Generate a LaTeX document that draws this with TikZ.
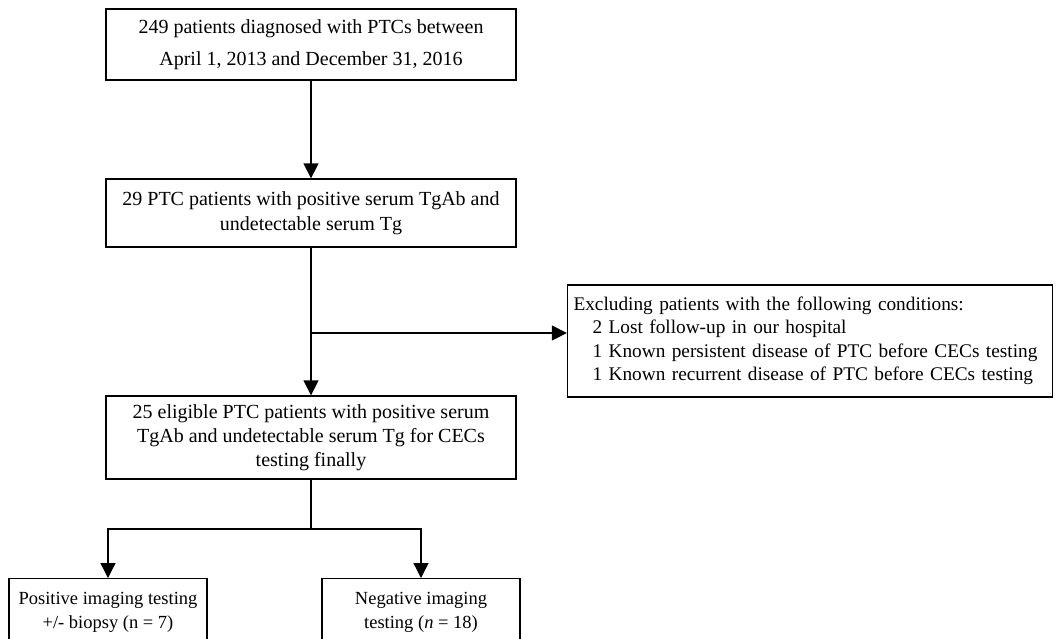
\documentclass[tikz,border=0pt]{standalone}
\usepackage{fontspec}
\setmainfont{Liberation Serif}
\usetikzlibrary{arrows.meta}
\begin{document}
\begin{tikzpicture}[x=1pt,y=-1pt,
  box/.style={draw,line width=1.3pt,align=center,inner sep=0pt,font=\fontsize{20}{24.5}\selectfont},
  arr/.style={line width=1.3pt,-{Triangle[length=15pt,width=15pt]}},
  ln/.style={line width=1.3pt}]
\clip (0,0) rectangle (1058,638);
\fill[white] (0,0) rectangle (1058,638);
\node[box,minimum width=410pt,minimum height=71pt,font=\fontsize{20}{32}\selectfont] (b1) at (311,44.5)
  {249 patients diagnosed with PTCs between\\April 1, 2013 and December 31, 2016};
\node[box,minimum width=410pt,minimum height=68pt,font=\fontsize{20}{25}\selectfont] (b2) at (311,213)
  {29 PTC patients with positive serum TgAb and\\undetectable serum Tg};
\node[box,minimum width=410pt,minimum height=83pt,font=\fontsize{20}{24}\selectfont] (b3) at (311,437.5)
  {25 eligible PTC patients with positive serum\\TgAb and undetectable serum Tg for CECs\\testing finally};
\node[box,minimum width=485pt,minimum height=112pt,align=left,text width=473pt,font=\fontsize{19.3}{23.5}\selectfont] (ex) at (810,341)
  {Excluding patients with the following conditions:\\
  \hspace*{19pt}2 Lost follow-up in our hospital\\
  \hspace*{19pt}1 Known persistent disease of PTC before CECs testing\\
  \hspace*{19pt}1 Known recurrent disease of PTC before CECs testing};
\node[box,minimum width=198pt,anchor=north,font=\fontsize{18.5}{24}\selectfont] (pos) at (108,578)
  {\rule{0pt}{26pt}Positive imaging testing\\+/- biopsy (n = 7)\rule[-30pt]{0pt}{30pt}};
\node[box,minimum width=198pt,anchor=north,font=\fontsize{18.5}{24}\selectfont] (neg) at (421,578)
  {\rule{0pt}{26pt}Negative imaging\\testing (\textit{n} = 18)\rule[-30pt]{0pt}{30pt}};
\draw[arr] (b1.south) -- (b2.north);
\draw[arr] (b2.south) -- (b3.north);
\coordinate (brk) at (311,333);
\draw[arr] (brk) -- (brk -| ex.west);
\coordinate (sp) at (311,529);
\draw[ln] (b3.south) -- (sp);
\draw[arr] (sp) -| (pos.north);
\draw[arr] (sp) -| (neg.north);
\end{tikzpicture}
\end{document}
